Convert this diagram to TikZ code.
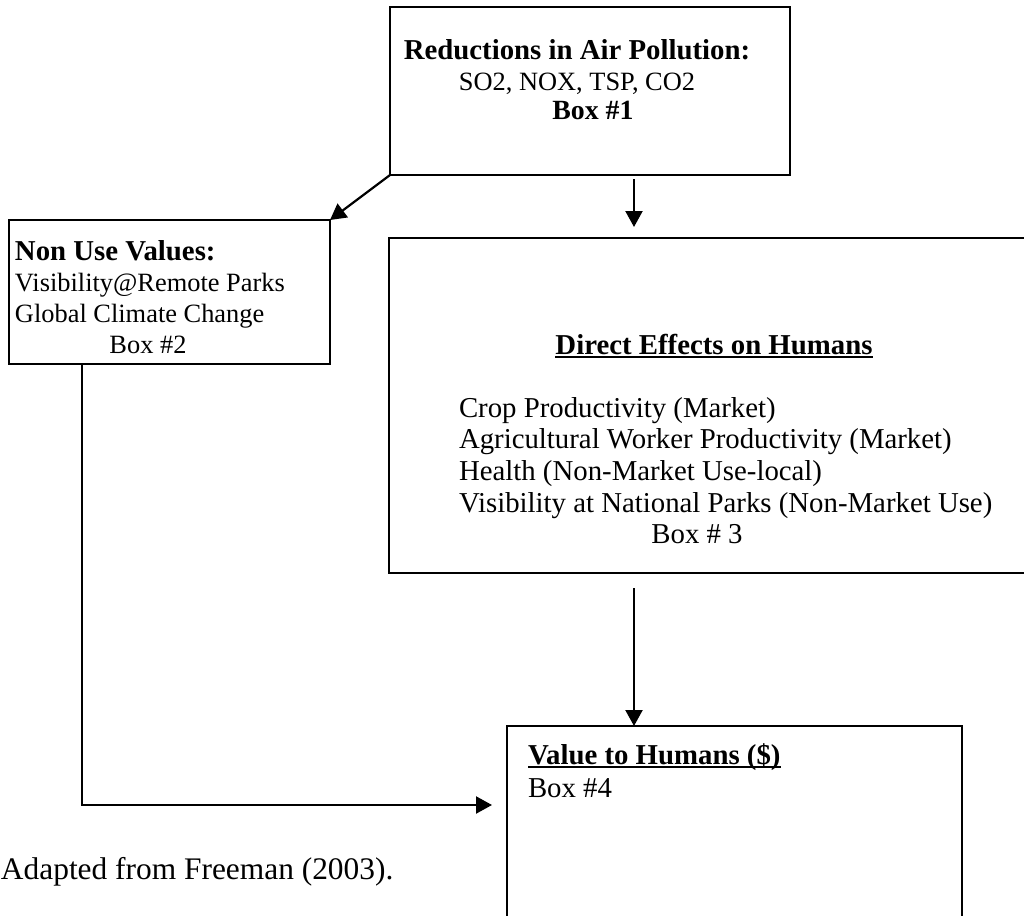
\documentclass[tikz,border=0pt]{standalone}
\usepackage{fontspec}
\setmainfont{Liberation Serif}
\usetikzlibrary{arrows.meta}
\tikzset{
  box/.style={draw, line width=1.1pt, inner sep=0pt, outer sep=0pt, rectangle},
  arr/.style={line width=1.1pt, -{Triangle[length=8pt,width=8.5pt]}},
  txt/.style={inner sep=0pt, outer sep=0pt},
  ulin/.style={line width=1pt},
  hd/.style={txt, font=\fontsize{14.4}{17}\selectfont\bfseries},
  rB/.style={txt, font=\fontsize{13.2}{15}\selectfont},
  rC/.style={txt, font=\fontsize{14.4}{17}\selectfont},
  captxt/.style={txt, font=\fontsize{15.7}{18}\selectfont}
}
\begin{document}
\begin{tikzpicture}[x=0.5pt,y=-0.5pt]
\clip (0,0) rectangle (1024,916);
% boxes
\node[box, minimum width=200pt, minimum height=84pt] (b1) at (590,91) {};
\node[box, minimum width=160.5pt, minimum height=72pt] (b2) at (169.5,292) {};
\node[box, minimum width=320.5pt, minimum height=167.5pt] (b3) at (709.5,405.5) {};
\node[box, minimum width=227.5pt, minimum height=107pt] (b4) at (734.5,833) {};
% box 1 text
\node[hd, anchor=base] (t1a) at (577,59) {Reductions in Air Pollution:};
\node[rB, anchor=base] (t1b) at (577,90) {SO2, NOX, TSP, CO2};
\node[txt, font=\fontsize{13.9}{16}\selectfont\bfseries, anchor=base] (t1c) at (593,119) {Box \#1};
% box 2 text
\node[hd, anchor=base west] (t2a) at (15,260) {Non Use Values:};
\node[rB, anchor=base west] (t2b) at (15,291) {Visibility@Remote Parks};
\node[rB, anchor=base west] (t2c) at (15,322) {Global Climate Change};
\node[rB, anchor=base] (t2d) at (148,353) {Box \#2};
% box 3 text
\node[hd, anchor=base] (t3h) at (714,354) {Direct Effects on Humans};
\draw[ulin] ([yshift=-1.6pt]t3h.base west) -- ([yshift=-1.6pt]t3h.base east);
\node[rC, anchor=base west] (t3a) at (459,417) {Crop Productivity (Market)};
\node[rC, anchor=base west] (t3b) at (459,448) {Agricultural Worker Productivity (Market)};
\node[rC, anchor=base west] (t3c) at (459,480) {Health (Non-Market Use-local)};
\node[rC, anchor=base west] (t3d) at (459,512) {Visibility at National Parks (Non-Market Use)};
\node[rC, anchor=base] (t3e) at (697,543) {Box \# 3};
% box 4 text
\node[hd, anchor=base west] (t4h) at (528,764) {Value to Humans (\$)};
\draw[ulin] ([yshift=-1.6pt]t4h.base west) -- ([yshift=-1.6pt]t4h.base east);
\node[rC, anchor=base west] (t4a) at (528,797) {Box \#4};
% caption
\node[captxt, anchor=base west] (capt) at (1,879) {Adapted from Freeman (2003).};
% connectors
\coordinate (a2) at (634,0);
\coordinate (a3) at (634,0);
\coordinate (a4) at (82,805);
\draw[arr] (b1.south west) -- (b2.north east);
\draw[arr] ([yshift=-2pt]b1.south -| a2) -- ([yshift=5.5pt]b3.north -| a2);
\draw[arr] ([yshift=-7.5pt]b3.south -| a3) -- (b4.north -| a3);
\draw[arr] (b2.south -| a4) |- ([xshift=-7.5pt]b4.west |- a4);
\end{tikzpicture}
\end{document}
